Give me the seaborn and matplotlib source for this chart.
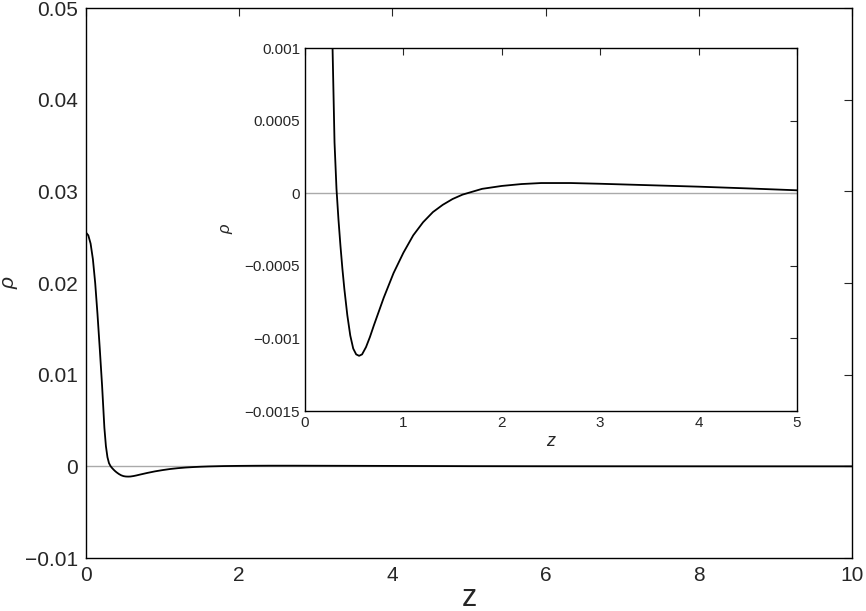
import matplotlib
matplotlib.use("Agg")
import matplotlib.pyplot as plt
import seaborn as sns

sns.set_style("white")
plt.rcParams['font.family'] = ['Liberation Sans', 'DejaVu Sans']

z = [0, 0.03, 0.06, 0.09, 0.12, 0.15, 0.18, 0.21, 0.24, 0.26, 0.28, 0.30, 0.32, 0.34, 0.36, 0.38,
     0.40, 0.43, 0.46, 0.49, 0.52, 0.55, 0.58, 0.62, 0.66, 0.7, 0.8, 0.9, 1.0,
     1.1, 1.2, 1.3, 1.4, 1.5, 1.6, 1.7, 1.8, 2.0, 2.2, 2.4, 2.7, 3.0, 3.5, 4.0, 4.5, 5.0,
     6.0, 7.0, 8.0, 9.0, 10.0]
rho = [0.0255, 0.0252, 0.0243, 0.0226, 0.0200, 0.0166, 0.0128, 0.0088, 0.0042, 0.0022, 0.0010,
       0.00035, 0.00003, -0.00018, -0.00036, -0.00052,
       -0.00066, -0.00084, -0.00098, -0.00107, -0.00111, -0.00112, -0.00111, -0.00106, -0.00099,
       -0.00091, -0.00072, -0.00055, -0.00041, -0.00029, -0.00020, -0.00013, -0.00008, -0.00004,
       -0.00001, 0.00001, 0.00003, 0.00005, 0.000063, 0.00007, 0.00007, 0.000065,
       0.000055, 0.000045, 0.000033, 0.00002, 0.00001, 0.000006, 0.000003, 0.000001, 0.0]

main_xticks = [0, 2, 4, 6, 8, 10]
main_yticks = [-0.01, 0, 0.01, 0.02, 0.03, 0.04, 0.05]
main_ylabels = ["\u22120.01", "0", "0.01", "0.02", "0.03", "0.04", "0.05"]
ins_xticks = [0, 1, 2, 3, 4, 5]
ins_yticks = [-0.0015, -0.001, -0.0005, 0, 0.0005, 0.001]
ins_ylabels = ["\u22120.0015", "\u22120.001", "\u22120.0005", "0", "0.0005", "0.001"]

fig = plt.figure(figsize=(8.66, 6.11), dpi=100)
ax = fig.add_axes([86/866, 1-558/611, (852-86)/866, (558-8)/611])
ax.axhline(0, color="#aaaaaa", lw=1)
sns.lineplot(x=z, y=rho, ax=ax, color="black", lw=1.3)
ax.set_xlim(0, 10); ax.set_ylim(-0.01, 0.05)
ax.set_xticks(main_xticks); ax.set_xticklabels([str(t) for t in main_xticks])
ax.set_yticks(main_yticks); ax.set_yticklabels(main_ylabels)
ax.tick_params(direction="in", top=True, right=True, labelsize=15, length=6, pad=6)
ax.set_xlabel("z", fontsize=22, labelpad=-2)
ax.set_ylabel("\u03c1", fontsize=15, style="italic", labelpad=4)
for s in ax.spines.values():
    s.set_color("black"); s.set_linewidth(1)

ia = fig.add_axes([305/866, 1-411/611, (797-305)/866, (411-48)/611])
ia.axhline(0, color="#aaaaaa", lw=1)
sns.lineplot(x=z, y=rho, ax=ia, color="black", lw=1.3)
ia.set_xlim(0, 5); ia.set_ylim(-0.0015, 0.001)
ia.set_xticks(ins_xticks); ia.set_xticklabels([str(t) for t in ins_xticks])
ia.set_yticks(ins_yticks); ia.set_yticklabels(ins_ylabels)
ia.tick_params(direction="in", top=True, right=True, labelsize=11, length=5)
ia.set_xlabel("z", fontsize=13, style="italic", labelpad=2)
ia.set_ylabel("\u03c1", fontsize=12, style="italic", labelpad=8)
for s in ia.spines.values():
    s.set_color("black"); s.set_linewidth(1)

fig.savefig("out.png", dpi=100)
